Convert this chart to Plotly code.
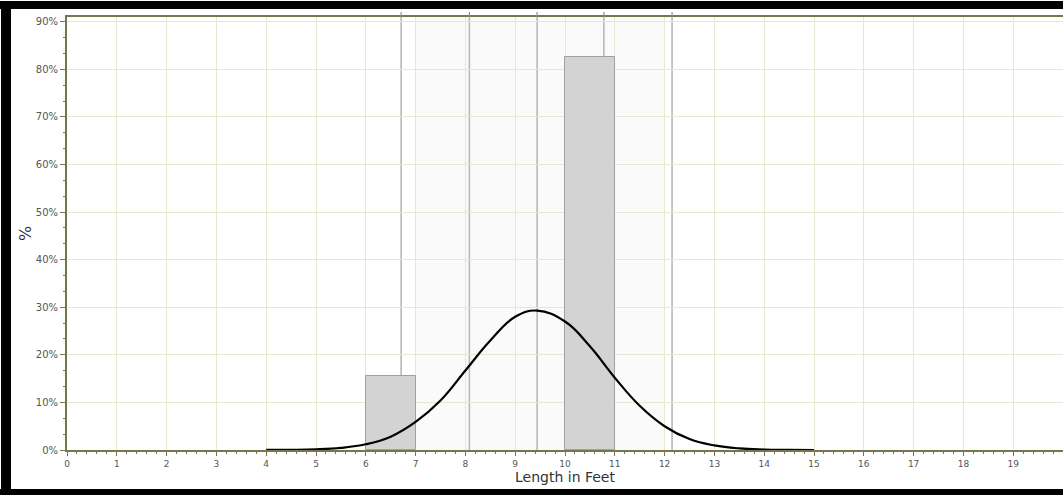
import plotly.graph_objects as go

# ---- data ----
bin_left = [6, 10]
bin_right = [7, 11]
bin_pct = [15.6, 82.6]

curve_x = [4, 4.5, 5, 5.5, 6, 6.5, 7, 7.5, 8, 8.5, 9, 9.44, 10, 10.5, 11, 11.5, 12, 12.5, 13, 13.5, 14, 14.5, 15]
curve_y = [0.01, 0.04, 0.14, 0.45, 1.2, 2.8, 5.9, 10.4, 16.7, 23.0, 28.0, 29.3, 27.0, 21.8, 15.2, 9.3, 5.0, 2.3, 0.96, 0.33, 0.1, 0.03, 0.0]

sd_lines = [6.71, 8.08, 9.44, 10.78, 12.15]
band = [7, 12]

x_ticks = list(range(0, 20))
y_ticks = [0, 10, 20, 30, 40, 50, 60, 70, 80, 90]
y_ticklabels = [f"{v}%" for v in y_ticks]

W, H = 1063, 495
ML, MR, MT, MB = 67, 0, 17, 45
PW = W - ML - MR
PH = H - MT - MB

AXC = "#77774f"
GRIDC = "#e8e8d2"

fig = go.Figure()

centers = [(a + b) / 2 for a, b in zip(bin_left, bin_right)]
widths = [b - a for a, b in zip(bin_left, bin_right)]
fig.add_trace(go.Bar(
    x=centers, y=bin_pct, width=widths,
    marker=dict(color="#d3d3d3", line=dict(color="#a0a0a0", width=1)),
    showlegend=False, hoverinfo="skip",
))
fig.add_trace(go.Scatter(
    x=curve_x, y=curve_y, mode="lines",
    line=dict(color="#000000", width=2.2, shape="spline", smoothing=1.2),
    showlegend=False, hoverinfo="skip",
))

shapes = []
# faint band
shapes.append(dict(type="rect", xref="x", yref="y", x0=band[0], x1=band[1], y0=0, y1=91,
                   fillcolor="rgba(0,0,0,0.02)", line=dict(width=0), layer="below"))
# mean / sd lines
for v in sd_lines:
    shapes.append(dict(type="line", xref="x", yref="y", x0=v, x1=v, y0=0, y1=91,
                       line=dict(color="#b8b8b8", width=1.6), layer="below"))
    shapes.append(dict(type="line", xref="x", yref="paper", x0=v, x1=v, y0=1.0, y1=1.0 + 5 / PH,
                       line=dict(color="#909090", width=1.2), layer="above"))

# black frame strips (in paper fractions)
def px_x(p):
    return (p - ML) / PW

def px_y(p):
    return (H - MB - p) / PH

frame = dict(type="rect", xref="paper", yref="paper", fillcolor="#000000", line=dict(width=0), layer="above")
shapes.append({**frame, "x0": px_x(0), "x1": px_x(W), "y0": px_y(1), "y1": px_y(9)})
shapes.append({**frame, "x0": px_x(1), "x1": px_x(11), "y0": px_y(1), "y1": px_y(495)})
shapes.append({**frame, "x0": px_x(0), "x1": px_x(W), "y0": px_y(489), "y1": px_y(495)})

fig.update_layout(
    width=W, height=H,
    margin=dict(l=ML, r=MR, t=MT, b=MB, pad=0, autoexpand=False),
    paper_bgcolor="#ffffff", plot_bgcolor="#ffffff",
    font=dict(family="DejaVu Sans", color="#444444"),
    bargap=0,
    shapes=shapes,
    xaxis=dict(
        range=[0, 20], tickmode="array", tickvals=x_ticks, ticktext=[str(v) for v in x_ticks],
        showgrid=True, gridcolor=GRIDC, gridwidth=1.3,
        showline=True, linecolor=AXC, linewidth=2, mirror=True,
        ticks="outside", ticklen=4, tickcolor=AXC, tickwidth=1,
        tickfont=dict(size=9, color="#555555"),
        minor=dict(dtick=0.2, tick0=0, ticks="outside", ticklen=2, tickcolor=AXC, showgrid=False),
        zeroline=False,
        title=dict(text="Length in Feet", font=dict(size=14, color="#333333"), standoff=3),
    ),
    yaxis=dict(
        range=[0, 91], tickmode="array", tickvals=y_ticks, ticktext=y_ticklabels,
        showgrid=True, gridcolor=GRIDC, gridwidth=1.3,
        showline=True, linecolor=AXC, linewidth=2, mirror=False,
        ticks="outside", ticklen=5, tickcolor=AXC, tickwidth=1,
        tickfont=dict(size=10, color="#555555"),
        minor=dict(dtick=10 / 3, tick0=0, ticks="outside", ticklen=2, tickcolor=AXC, showgrid=False),
        zeroline=False,
        title=dict(text="%", font=dict(size=16, color="#333333"), standoff=0),
    ),
)

fig.write_html(
    "out.html",
    config={"displayModeBar": False},
    post_script="document.body.style.margin='0';document.body.style.overflow='hidden';",
)
